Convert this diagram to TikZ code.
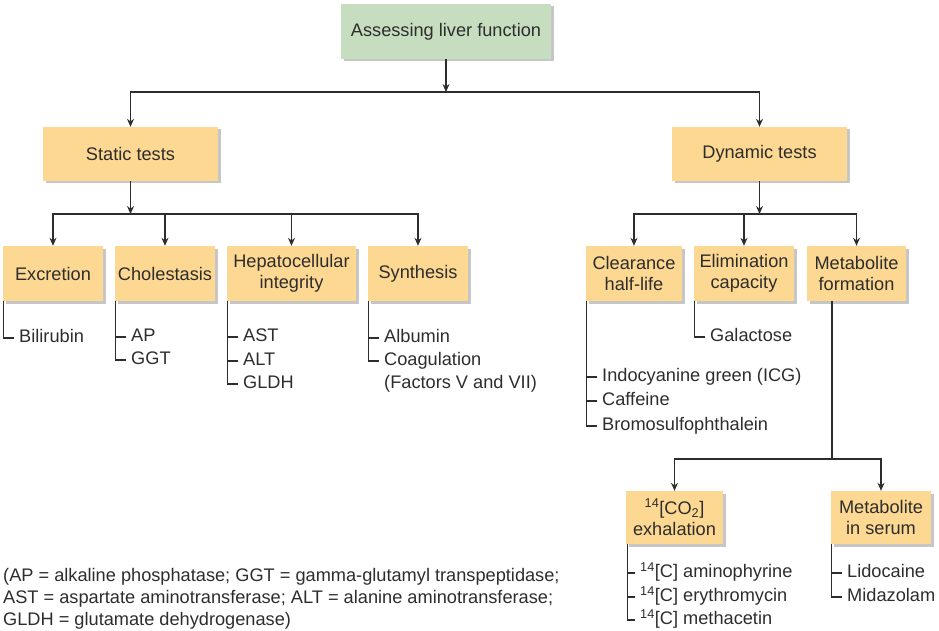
\documentclass[tikz,border=0pt]{standalone}
\usepackage{fontspec}
\setmainfont{Liberation Sans}
\usetikzlibrary{arrows.meta,positioning,shadows}
\definecolor{boxorange}{RGB}{253,216,146}
\definecolor{boxgreen}{RGB}{198,222,191}
\definecolor{ink}{RGB}{45,45,45}
\tikzset{
  box/.style = {fill = boxorange, text = ink, align = center, inner sep = 0pt,
    drop shadow = {shadow xshift = 2.5pt, shadow yshift = -2.5pt, opacity = 0.45},
    font = \fontsize{18.2}{21.5}\selectfont},
  arr/.style = {draw = ink, line width = 1.1pt, -{Stealth[length = 8pt, width = 7pt]}},
  lst/.style = {draw = ink, line width = 1.1pt},
  item/.style = {anchor = west, inner sep = 5pt, text = ink, text height = 13pt,
    text depth = 4pt, font = \fontsize{18.2}{22}\selectfont}
}

\begin{document}
\begin{tikzpicture}[x = 1pt, y = -1pt]
\useasboundingbox (0,0) rectangle (939,631);

% boxes
\node[box, fill = boxgreen, minimum width = 210pt, minimum height = 55pt] (top) at (446,31.5) {Assessing liver function};
\node[box, minimum width = 175pt, minimum height = 54pt] (static) at (130.5,154) {Static tests};
\node[box, minimum width = 175pt, minimum height = 54pt] (dynamic) at (759.5,154) {Dynamic tests};

\node[box, minimum width = 100pt, minimum height = 55pt] (exc) at (53,273.5) {Excretion};
\node[box, minimum width = 100pt, minimum height = 55pt] (cho) at (165,273.5) {Cholestasis};
\node[box, minimum width = 129pt, minimum height = 55pt] (hep) at (291.5,273.5) {Hepatocellular\\integrity};
\node[box, minimum width = 100pt, minimum height = 55pt] (syn) at (418,273.5) {Synthesis};

\node[box, minimum width = 96pt, minimum height = 55pt] (clr) at (634,273.5) {Clearance\\half-life};
\node[box, minimum width = 100pt, minimum height = 55pt] (eli) at (744,273.5) {Elimination\\capacity};
\node[box, minimum width = 99pt, minimum height = 55pt] (met) at (856.5,273.5) {Metabolite\\formation};

\node[box, minimum width = 97pt, minimum height = 53pt] (co2) at (674.5,517.5) {\textsuperscript{14}[CO\textsubscript{2}]\\exhalation};
\node[box, minimum width = 100pt, minimum height = 53pt] (ser) at (881,517.5) {Metabolite\\in serum};

% branch points
\coordinate (j1) at (446,92);
\coordinate (j2) at (130.5,214);
\coordinate (j3) at (759.5,214);
\coordinate (j4) at (832,459);

\draw[arr] (top) -- (j1);
\draw[arr] (j1) -| (static);
\draw[arr] (j1) -| (dynamic);
\draw[arr] (static) -- (j2);
\foreach \b in {exc, cho, hep, syn}
  \draw[arr] (j2) -| (\b);
\draw[arr] (dynamic) -- (j3);
\foreach \b in {clr, eli, met}
  \draw[arr] (j3) -| (\b);
\draw[lst] (met.south -| j4) -- (j4);
\draw[arr] (j4) -| (co2);
\draw[arr] (j4) -| (ser);

% lists
\node[item] (bili) at (14,338) {Bilirubin};
\node[item] (ap) at (126,337) {AP};
\node[item] (ggt) at (126,360) {GGT};
\node[item] (ast) at (238,337) {AST};
\node[item] (alt) at (238,361) {ALT};
\node[item] (gldh) at (238,384) {GLDH};
\node[item] (alb) at (379,338) {Albumin};
\node[item] (coag) at (379,361) {Coagulation};
\node[item] (fac) at (379,384) {(Factors V and VII)};
\node[item] (icg) at (597,377) {Indocyanine green (ICG)};
\node[item] (caf) at (597,401) {Caffeine};
\node[item] (bro) at (597,426) {Bromosulfophthalein};
\node[item] (gal) at (705,337) {Galactose};
\node[item] (amin) at (635,573) {\textsuperscript{14}[C] aminophyrine};
\node[item] (ery) at (635,597) {\textsuperscript{14}[C] erythromycin};
\node[item] (meth) at (635,620) {\textsuperscript{14}[C] methacetin};
\node[item] (lido) at (842,573) {Lidocaine};
\node[item] (mida) at (842,597) {Midazolam};

\draw[lst] ([xshift = 1pt]exc.south west) |- (bili.west);
\foreach \i in {ap, ggt}
  \draw[lst] ([xshift = 1pt]cho.south west) |- (\i.west);
\foreach \i in {ast, alt, gldh}
  \draw[lst] ([xshift = 1pt]hep.south west) |- (\i.west);
\foreach \i in {alb, coag}
  \draw[lst] ([xshift = 1pt]syn.south west) |- (\i.west);
\foreach \i in {icg, caf, bro}
  \draw[lst] ([xshift = 1pt]clr.south west) |- (\i.west);
\draw[lst] ([xshift = 1pt]eli.south west) |- (gal.west);
\foreach \i in {amin, ery, meth}
  \draw[lst] ([xshift = 2pt]co2.south west) |- (\i.west);
\foreach \i in {lido, mida}
  \draw[lst] ([xshift = 1pt]ser.south west) |- (\i.west);

% abbreviations
\node[anchor = north west, align = left, inner sep = 3pt, text = ink,
  font = \fontsize{18.2}{22}\selectfont] (abbr) at (0,565)
  {(AP = alkaline phosphatase; GGT = gamma-glutamyl transpeptidase;\\
   AST = aspartate aminotransferase; ALT = alanine aminotransferase;\\
   GLDH = glutamate dehydrogenase)};
\end{tikzpicture}
\end{document}
